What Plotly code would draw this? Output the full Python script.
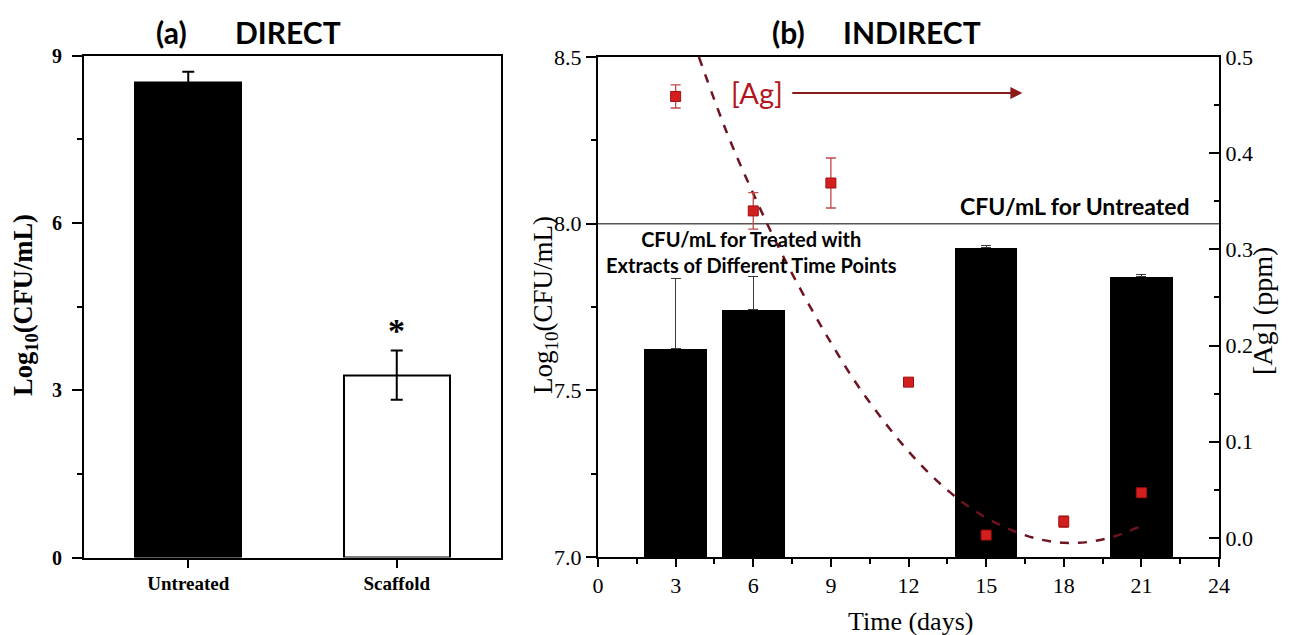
import plotly.graph_objects as go

# ---------------- Data ----------------
# Panel (a) DIRECT
direct_categories = ["Untreated", "Scaffold"]
direct_values = [8.52, 3.27]
direct_errors = [0.19, 0.44]

# Panel (b) INDIRECT - bars (Log10 CFU/mL)
indirect_days = [3, 6, 15, 21]
indirect_values = [7.625, 7.742, 7.928, 7.841]
indirect_errors = [0.21, 0.10, 0.007, 0.006]

# Panel (b) [Ag] (ppm) points
ag_days = [3, 6, 9, 12, 15, 18, 21]
ag_values = [0.459, 0.340, 0.369, 0.162, 0.003, 0.017, 0.047]
ag_errors = [0.012, 0.019, 0.026, 0.002, 0.002, 0.006, 0.002]

# Panel (b) dashed fit curve
fit_days = [3.9, 5, 6, 7, 8, 9, 10, 11, 12, 13, 14, 15, 16, 17, 18, 19, 20, 21]
fit_values = [0.500, 0.420, 0.358, 0.301, 0.250, 0.203, 0.160, 0.123, 0.090,
              0.062, 0.039, 0.021, 0.008, -0.001, -0.005, -0.004, 0.002, 0.0125]

untreated_level = [8.0]

# ---------------- Figure ----------------
W, H = 1292, 635
SERIF = "Liberation Serif"
SANS = "Lato"

fig = go.Figure()

fig.add_trace(go.Bar(
    x=direct_categories, y=direct_values, width=0.51,
    marker=dict(color=["black", "white"], line=dict(color="black", width=2)),
    error_y=dict(type="data", array=direct_errors, color="black", thickness=2, width=6),
    xaxis="x", yaxis="y", showlegend=False,
))

fig.add_trace(go.Bar(
    x=indirect_days, y=[v - 7.0 for v in indirect_values], base=7.0, width=2.42,
    marker=dict(color="black", line=dict(color="black", width=0)),
    error_y=dict(type="data", symmetric=False, array=indirect_errors,
                 arrayminus=[0] * len(indirect_errors),
                 color="#3a3a3a", thickness=1.2, width=5),
    xaxis="x2", yaxis="y2", showlegend=False,
))

fig.add_trace(go.Scatter(
    x=[0, 24], y=untreated_level * 2, mode="lines",
    line=dict(color="#555555", width=1.5),
    xaxis="x2", yaxis="y2", showlegend=False, hoverinfo="skip",
))

fig.add_trace(go.Scatter(
    x=fit_days, y=fit_values, mode="lines", line_shape="spline",
    line=dict(color="#6e1420", width=2.5, dash="dash"),
    xaxis="x2", yaxis="y3", showlegend=False,
))

fig.add_trace(go.Scatter(
    x=ag_days, y=ag_values, mode="markers",
    marker=dict(symbol="square", size=10, color="#d41f1f", line=dict(color="#a01010", width=1)),
    error_y=dict(type="data", array=ag_errors, color="#c04848", thickness=1.3, width=5),
    xaxis="x2", yaxis="y3", showlegend=False,
))

axis_common = dict(showline=True, linecolor="black", linewidth=2, showgrid=False,
                   zeroline=False, automargin=False)

fig.update_layout(
    width=W, height=H,
    margin=dict(l=0, r=0, t=0, b=0, pad=0),
    paper_bgcolor="white", plot_bgcolor="white",
    bargap=0,
    xaxis=dict(**axis_common, domain=[84 / W, 501 / W], type="category", range=[-0.5, 1.5],
               mirror=True, ticks="outside", ticklen=8, tickwidth=2, tickcolor="black",
               tickfont=dict(family=SERIF, size=19, color="black", weight="bold"),
               anchor="y"),
    yaxis=dict(**axis_common, domain=[1 - 557.5 / H, 1 - 55.5 / H], range=[0, 9],
               mirror=True, ticks="outside", ticklen=10, tickwidth=2, tickcolor="black",
               tickvals=[0, 3, 6, 9], ticklabelstandoff=6,
               minor=dict(tickvals=[1.5, 4.5, 7.5], ticks="outside", ticklen=5, tickwidth=2, tickcolor="black"),
               tickfont=dict(family=SERIF, size=20, color="black", weight="bold"),
               anchor="x"),
    xaxis2=dict(**axis_common, domain=[598 / W, 1219 / W], range=[0, 24],
                mirror=True, ticks="outside", ticklen=8, tickwidth=2, tickcolor="black",
                tickvals=[0, 3, 6, 9, 12, 15, 18, 21, 24],
                minor=dict(tickvals=[1.5, 4.5, 7.5, 10.5, 13.5, 16.5, 19.5, 22.5],
                           ticks="outside", ticklen=5, tickwidth=2, tickcolor="black"),
                tickfont=dict(family=SERIF, size=22, color="black"),
                anchor="y2"),
    yaxis2=dict(**axis_common, domain=[1 - 557 / H, 1 - 57 / H], range=[7.0, 8.5],
                ticks="outside", ticklen=10, tickwidth=2, tickcolor="black",
                tickvals=[7.0, 7.5, 8.0, 8.5], ticktext=["7.0", "7.5", "8.0", "8.5"],
                minor=dict(tickvals=[7.25, 7.75, 8.25], ticks="outside", ticklen=5, tickwidth=2, tickcolor="black"),
                tickfont=dict(family=SERIF, size=22, color="black"),
                anchor="x2"),
    yaxis3=dict(**axis_common, overlaying="y2", side="right", range=[-0.0198, 0.5],
                ticks="inside", ticklen=10, tickwidth=2, tickcolor="black",
                tickvals=[0.0, 0.1, 0.2, 0.3, 0.4, 0.5],
                ticktext=["0.0", "0.1", "0.2", "0.3", "0.4", "0.5"],
                minor=dict(tickvals=[0.05, 0.15, 0.25, 0.35, 0.45], ticks="inside", ticklen=5,
                           tickwidth=2, tickcolor="black"),
                tickfont=dict(family=SERIF, size=22, color="black"),
                anchor="x2"),
)


def paper_text(text, xc, yc, size, family, angle=0):
    return dict(text=text, x=xc / W, y=1 - yc / H, xref="paper", yref="paper",
                xanchor="center", yanchor="middle", textangle=angle, showarrow=False,
                font=dict(family=family, size=size, color="black"))


ann = []
# Titles
for txt, xc in [("(a)", 171), ("DIRECT", 288), ("(b)", 788), ("INDIRECT", 912)]:
    ann.append(paper_text("<b>" + txt + "</b>", xc, 32, 30, SANS))
# Axis titles
ann.append(paper_text("<b>Log<sub>10</sub>(CFU/mL)</b>", 25, 305, 26.5, SERIF, -90))
ann.append(paper_text("Log<sub>10</sub>(CFU/mL)", 545, 305, 27, SERIF, -90))
ann.append(paper_text("[Ag] (ppm)", 1262, 311, 28, SERIF, -90))
ann.append(paper_text("Time (days)", 910, 621, 26, SERIF))
# Asterisk
ann.append(dict(text="<b>*</b>", x="Scaffold", y=3.71, xref="x", yref="y", yanchor="bottom",
                xanchor="center", showarrow=False, font=dict(family=SERIF, size=34, color="black")))
# Panel (b) labels
ann.append(dict(text="<b>CFU/mL for Untreated</b>", x=22.97, y=8.005, xref="x2", yref="y2",
                xanchor="right", yanchor="bottom", showarrow=False,
                font=dict(family=SANS, size=23, color="black")))
ann.append(dict(text="<b>CFU/mL for Treated with<br>Extracts of Different Time Points</b>",
                x=5.95, y=7.915, xref="x2", yref="y2", xanchor="center", yanchor="middle",
                showarrow=False, font=dict(family=SANS, size=20, color="black")))
ann.append(dict(text="[Ag]", x=6.13, y=0.4626, xref="x2", yref="y3", xanchor="center",
                yanchor="middle", showarrow=False, font=dict(family=SANS, size=29, color="#b3161c")))
ann.append(dict(text="", x=16.4, y=0.4626, ax=7.45, ay=0.4626, xref="x2", yref="y3",
                axref="x2", ayref="y3", showarrow=True, arrowhead=2, arrowsize=1.2,
                arrowwidth=2, arrowcolor="#8b1a1a"))
fig.update_layout(annotations=ann)

fig.write_html("out.html", config={"displayModeBar": False},
               post_script="document.body.style.margin='0';document.body.style.padding='0';")
